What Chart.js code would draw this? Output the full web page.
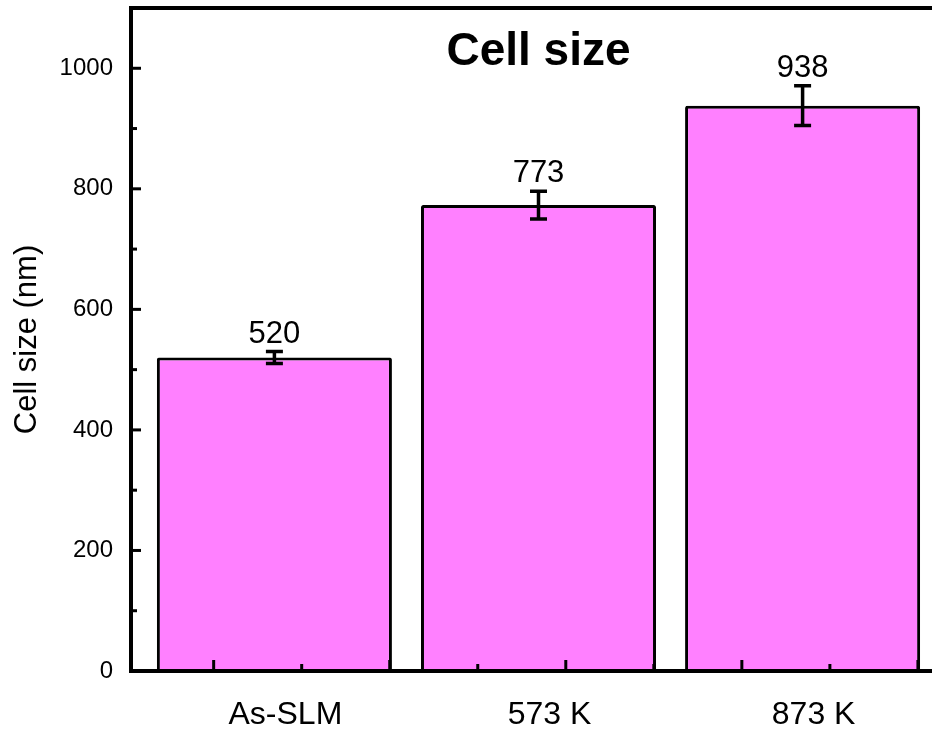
<!DOCTYPE html>
<html>
<head>
<meta charset="utf-8">
<title>Cell size</title>
<script src="https://cdn.jsdelivr.net/npm/chart.js@4.4.1/dist/chart.umd.min.js"></script>
<style>
  html, body { margin: 0; padding: 0; background: #fff; overflow: hidden; }
  #wrap { width: 932px; height: 729px; overflow: hidden; }
</style>
</head>
<body>
<div id="wrap"><canvas id="c" width="960" height="729"></canvas></div>
<script>
// Mean cell size per condition, with standard deviation
const categories = ['As-SLM', '573 K', '873 K'];
const positions = [1, 2, 3];
const cellSize = [520, 773, 938];
const cellSizeErr = [10, 23, 33];
const yTickValues = [0, 200, 400, 600, 800, 1000];

const FONT = 'Liberation Sans, Arial, sans-serif';

// Frame, inward tick marks, error bars, value labels and the heading
const decorations = {
  id: 'decorations',
  afterDatasetsDraw(chart) {
    const { ctx, chartArea: a, scales: { x, y } } = chart;
    ctx.save();
    ctx.strokeStyle = '#000';
    ctx.fillStyle = '#000';
    ctx.lineCap = 'butt';

    // error bars
    ctx.lineWidth = 3.5;
    cellSize.forEach((v, i) => {
      const px = x.getPixelForValue(positions[i]);
      const yt = y.getPixelForValue(v + cellSizeErr[i]);
      const yb = y.getPixelForValue(v - cellSizeErr[i]);
      ctx.beginPath();
      ctx.moveTo(px, yt); ctx.lineTo(px, yb);
      ctx.moveTo(px - 8.5, yt); ctx.lineTo(px + 8.5, yt);
      ctx.moveTo(px - 8.5, yb); ctx.lineTo(px + 8.5, yb);
      ctx.stroke();
    });

    // value labels above each error bar
    ctx.font = '31px ' + FONT;
    ctx.textAlign = 'center';
    ctx.textBaseline = 'alphabetic';
    cellSize.forEach((v, i) => {
      const px = x.getPixelForValue(positions[i]);
      const yt = y.getPixelForValue(v + cellSizeErr[i]);
      ctx.fillText(String(v), px, yt - 9);
    });

    // y-axis inward ticks: major every 200, minor every 100
    ctx.lineWidth = 3;
    for (let v = 100; v < y.max; v += 100) {
      const py = y.getPixelForValue(v);
      const len = v % 200 === 0 ? 10 : 6;
      ctx.beginPath();
      ctx.moveTo(a.left, py); ctx.lineTo(a.left + len, py);
      ctx.stroke();
    }

    // x-axis inward ticks
    const xTickStart = 0.77, xTickStep = 1 / 3;
    for (let k = 0; ; k++) {
      const v = xTickStart + k * xTickStep;
      if (v >= x.max) break;
      const px = x.getPixelForValue(v);
      const len = k % 2 === 0 ? 11 : 7;
      ctx.beginPath();
      ctx.moveTo(px, a.bottom); ctx.lineTo(px, a.bottom - len);
      ctx.stroke();
    }

    // plot frame
    ctx.lineWidth = 4;
    ctx.strokeRect(a.left, a.top, a.right - a.left, a.bottom - a.top);

    // heading
    ctx.font = 'bold 46px ' + FONT;
    ctx.textAlign = 'center';
    ctx.textBaseline = 'alphabetic';
    ctx.fillText('Cell size', (a.left + a.right) / 2, a.top + 57);
    ctx.restore();
  }
};

new Chart(document.getElementById('c').getContext('2d'), {
  type: 'bar',
  data: {
    datasets: [{
      data: positions.map((p, i) => ({ x: p, y: cellSize[i] })),
      backgroundColor: '#ff80ff',
      borderColor: '#000',
      borderWidth: 3,
      borderRadius: 2,
      borderSkipped: 'bottom',
      barPercentage: 0.89,
      categoryPercentage: 1
    }]
  },
  options: {
    responsive: false,
    animation: false,
    devicePixelRatio: 1,
    layout: { padding: { top: 8, right: 14, left: 0, bottom: 0 } },
    plugins: { legend: { display: false }, tooltip: { enabled: false } },
    scales: {
      x: {
        type: 'linear',
        min: 0.457,
        max: 3.543,
        offset: false,
        grid: { display: false, drawTicks: false },
        border: { display: false },
        afterBuildTicks: s => { s.ticks = positions.map(v => ({ value: v })); },
        afterFit: s => {
          s.height = 58;
          s.paddingLeft = 0; s.paddingRight = 0;
        },
        ticks: {
          callback: v => categories[positions.indexOf(v)] ?? '',
          font: { family: FONT, size: 32 },
          color: '#000',
          padding: 25,
          labelOffset: 11,
          maxRotation: 0,
          autoSkip: false
        }
      },
      y: {
        min: 0,
        max: 1100,
        grid: { display: false, drawTicks: false },
        border: { display: false },
        afterBuildTicks: s => { s.ticks = yTickValues.map(v => ({ value: v })); },
        afterFit: s => {
          s.width = 131;
          s.paddingTop = 0; s.paddingBottom = 0;
        },
        ticks: {
          callback: v => String(v),
          font: { family: FONT, size: 24 },
          color: '#000',
          padding: 18
        },
        title: {
          display: true,
          text: 'Cell size (nm)',
          font: { family: FONT, size: 31 },
          color: '#000',
          padding: { top: 9, bottom: 0 }
        }
      }
    }
  },
  plugins: [decorations]
});
</script>
</body>
</html>
